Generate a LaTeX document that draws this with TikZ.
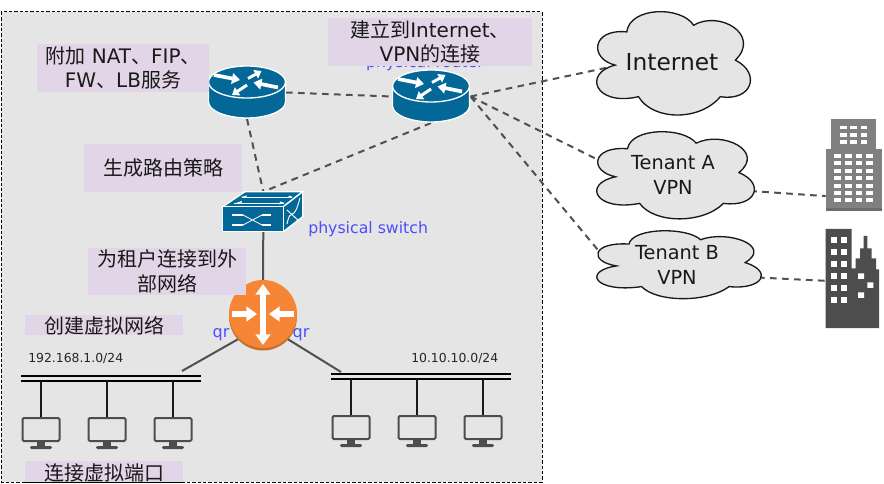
\documentclass[tikz,border=0pt]{standalone}
\usepackage{fontspec}
\setmainfont{DejaVu Sans}
\newfontfamily\cjk{Noto Sans CJK SC}
\usetikzlibrary{arrows.meta,shapes.geometric}
\definecolor{panel}{HTML}{E5E5E5}
\definecolor{lilac}{HTML}{E1D5E7}
\definecolor{cisco}{HTML}{036897}
\definecolor{orangeq}{HTML}{F68635}
\definecolor{orangeqd}{HTML}{C4702E}
\definecolor{linkgray}{HTML}{505050}
\definecolor{bluetxt}{HTML}{4D4DFF}
\definecolor{bldA}{HTML}{808080}
\definecolor{bldB}{HTML}{4D4D4D}
\tikzset{
  lab/.style={fill=lilac,inner sep=0pt,outer sep=0pt,align=center,text=black!90,font=\fontsize{15}{18.3}\selectfont},
  hit/.style={inner sep=0pt,outer sep=0pt,draw=none,fill=none},
  dashlink/.style={draw=linkgray,line width=1.5pt,dash pattern=on 5pt off 4pt},
  solidlink/.style={draw=linkgray,line width=1.5pt},
  drop/.style={draw=black!90,line width=1.5pt},
  busline/.style={draw=black,line width=1.6pt},
  blue label/.style={text=bluetxt,inner sep=0pt},
  cloud text/.style={inner sep=0pt,text=black!90,align=center,font=\fontsize{14.5}{18.3}\selectfont},
  routerpic/.pic={
    \path[fill=cisco,draw=white,line width=1pt] (-38.5,0) -- (-38.5,20) .. controls (-38.5,29) and (-20,36) .. (0,36) .. controls (20,36) and (38.5,29) .. (38.5,20) -- (38.5,0) -- cycle;
    \path[fill=cisco,draw=white,line width=1pt] (0,0) ellipse [x radius=38.5,y radius=16];
    \draw[draw=white,line width=2.8pt,-{Triangle[length=6pt,width=8pt]}] (-33,-7) -- (-7,-2);
    \draw[draw=white,line width=2.2pt,-{Triangle[length=5pt,width=7pt]}] (1,-3.5) -- (14.5,-11);
    \draw[draw=white,line width=2.8pt,-{Triangle[length=6pt,width=8pt]}] (31,5.5) -- (6.5,0.5);
    \draw[draw=white,line width=2.2pt,-{Triangle[length=5pt,width=7pt]}] (0,3) -- (-15,13);
  },
  pcpic/.pic={
    \draw[draw=bldB,line width=1.5pt,rounded corners=1pt,fill=panel] (-18.5,0) rectangle (18.5,23);
    \fill[bldB] (-4,23) rectangle (4,28);
    \fill[bldB,rounded corners=1pt] (-11,28) rectangle (11,31);
  }
}
\newcommand{\cloudshape}[4]{%
  \begin{scope}[shift={(#1,#2)},x=#3*0.75pt,y=-#4*0.75pt]
    \path[fill=panel,draw=black!90,line width=1pt]
      (.128,.521) .. controls (-.04,.456) and (-.02,.16) .. (.202,.195)
      .. controls (.224,-.055) and (.55,-.06) .. (.628,.13)
      .. controls (.79,-.02) and (1.06,.22) .. (.894,.472)
      .. controls (1.06,.6) and (1.0,.88) .. (.798,.83)
      .. controls (.67,1.07) and (.37,1.07) .. (.277,.83)
      .. controls (.0,.93) and (-.08,.6) .. (.128,.521) -- cycle;
  \end{scope}}
\begin{document}
\begin{tikzpicture}[x=0.75pt,y=-0.75pt]
\useasboundingbox (0,0) rectangle (884,484);
% panel
\path[fill=panel,draw=black,line width=0.75pt,dash pattern=on 2.6pt off 1.4pt] (1,12) rectangle (542,482);
% hidden label behind the purple box
\node[blue label,font=\fontsize{11.8}{14}\selectfont] (prouter) at (425,63) {physical router};
% connectors are drawn under the clouds
\node[hit,ellipse,minimum width=132*0.75pt,minimum height=90*0.75pt] (internetbox) at (673,63) {};
\node[hit,ellipse,minimum width=162*0.75pt,minimum height=86*0.75pt] (tenantAbox) at (675,175) {};
\node[hit,ellipse,minimum width=170*0.75pt,minimum height=68*0.75pt] (tenantBbox) at (679,265) {};
% icon hit boxes
\node[hit,minimum width=78*0.75pt,minimum height=53*0.75pt] (router1) at (247,92.5) {};
\node[hit,minimum width=79*0.75pt,minimum height=53*0.75pt] (router2) at (431,96.5) {};
\node[hit,minimum width=81*0.75pt,minimum height=40*0.75pt] (switch) at (263.3,211.7) {};
\node[hit,circle,minimum size=68*0.75pt] (qr) at (263,314) {};
\node[hit,minimum width=180*0.75pt,minimum height=5*0.75pt] (bus1) at (111,378.5) {};
\node[hit,minimum width=180*0.75pt,minimum height=5*0.75pt] (bus2) at (421,376.5) {};
\coordinate (bus1tap) at (182,371);
\coordinate (bus2tap) at (341,372);
\node[hit,minimum width=38*0.75pt,minimum height=31*0.75pt] (pc1) at (41,433.5) {};
\node[hit,minimum width=38*0.75pt,minimum height=31*0.75pt] (pc2) at (107,433.5) {};
\node[hit,minimum width=38*0.75pt,minimum height=31*0.75pt] (pc3) at (173,433.5) {};
\node[hit,minimum width=38*0.75pt,minimum height=31*0.75pt] (pc4) at (351,431.5) {};
\node[hit,minimum width=38*0.75pt,minimum height=31*0.75pt] (pc5) at (417,431.5) {};
\node[hit,minimum width=38*0.75pt,minimum height=31*0.75pt] (pc6) at (483,431.5) {};
\node[hit,minimum width=56*0.75pt,minimum height=92*0.75pt] (buildingA) at (853.7,165) {};
\node[hit,minimum width=53*0.75pt,minimum height=99*0.75pt] (buildingB) at (852.3,278.5) {};
% connectors
\draw[dashlink] (router1.east) -- (router2.west);
\draw[dashlink] (router1.south) -- (switch.north);
\draw[dashlink] (router2.south) -- (switch.north);
\draw[dashlink] (router2.east) -- (internetbox.184);
\draw[dashlink] (router2.east) -- (tenantAbox.169.5);
\draw[dashlink] (router2.east) -- (tenantBbox.171);
\draw[dashlink] (tenantAbox.-12.5) -- (buildingA.228);
\draw[dashlink] (tenantBbox.-9) -- (buildingB.185);
\draw[solidlink] (switch.south) -- (qr.north);
\draw[solidlink] (qr.226) -- (bus1tap);
\draw[solidlink] (qr.-46) -- (bus2tap);
% clouds
\cloudshape{595}{12}{157}{102}
\cloudshape{595}{132}{161}{86}
\cloudshape{595}{231}{168}{67}
\node[cloud text,font=\fontsize{17.5}{20}\selectfont] (internet) at (672,62) {Internet};
\node[cloud text] (tenantA) at (673,175) {Tenant A\\VPN};
\node[cloud text] (tenantB) at (677,265) {Tenant B\\VPN};
% buses
\draw[busline] (bus1.north west) -- (bus1.north east);
\draw[busline] (bus1.south west) -- (bus1.south east);
\draw[busline] (bus2.north west) -- (bus2.north east);
\draw[busline] (bus2.south west) -- (bus2.south east);
\foreach \p/\b in {pc1/bus1,pc2/bus1,pc3/bus1,pc4/bus2,pc5/bus2,pc6/bus2}{
  \draw[drop] (\p |- \b.south) -- (\p.north);
}
% pcs
\foreach \x/\y in {41/418,107/418,173/418,351/416,417/416,483/416}{
  \pic at (\x,\y) {pcpic};
}
% routers
\pic at (247,82) {routerpic};
\pic at (431,86) {routerpic};
% switch
\path[fill=cisco,draw=white,line width=1pt] (222.7,206.7) -- (245,191.7) -- (302.7,191.7) -- (283.3,206.7) -- cycle;
\path[fill=cisco,draw=white,line width=1pt] (283.3,206.7) -- (302.7,191.7) -- (302.7,216.7) -- (283.3,231.7) -- cycle;
\path[fill=cisco,draw=white,line width=1pt] (222.7,206.7) rectangle (283.3,231.7);
\draw[white,line width=2pt] (232,215) -- (243,215) (262,215) -- (271,215) (232,225) -- (243,225) (262,225) -- (271,225);
\draw[white,line width=0.6pt] (243,215) -- (262,225) (243,225) -- (262,215);
\draw[white,line width=0.6pt] (242,197) -- (292,197) (234,203) -- (284,203);
\fill[white] (236,203) -- (242,201) -- (241,204) -- cycle (289,195.5) -- (293,197) -- (288,198) -- cycle (247,195.5) -- (241,197) -- (246,198) -- cycle (280,201.5) -- (285,203) -- (279,204.5) -- cycle;
\draw[white,line width=0.7pt] (287,224) .. controls (291,205) and (293,225) .. (300,198);
\draw[white,line width=0.7pt] (287,210) -- (299,221);
% qr router
\fill[orangeqd] (263,316.5) circle [radius=34];
\fill[orangeq] (263,314) circle [radius=34];
\draw[draw=white,line width=4.5pt,{Triangle[length=8pt,width=11pt]}-{Triangle[length=8pt,width=11pt]}] (263,284) -- (263,345);
\draw[draw=white,line width=4.5pt,-{Triangle[length=8pt,width=11pt]}] (232,314) -- (257,314);
\draw[draw=white,line width=4.5pt,-{Triangle[length=8pt,width=11pt]}] (294,314) -- (269,314);
% buildings
\fill[bldA] (831,119) rectangle (876,150);
\fill[bldA] (825.7,149) rectangle (881.7,211);
\fill[bldA!85!black] (825.7,208) rectangle (881.7,211);
\foreach \y in {125.7,132.9,140.1}{\foreach \x in {840,850.3,860.7}{
  \fill[white] (\x,\y) rectangle +(6.7,3.8);}}
\foreach \y in {154,161.4,168.8,176.2,183.6,191,198.4}{\foreach \x in {834.3,845,855.7,866}{
  \fill[white] (\x,\y) rectangle +(6.7,4);}}
\fill[bldB] (825.7,229) -- (851.7,229) -- (851.7,268.3) -- (855.7,268.3) -- (855.7,258.3) -- (860,258.3) -- (860,248.3) -- (863.7,248.3) -- (863.7,236) -- (867.3,236) -- (867.3,248.3) -- (871.7,248.3) -- (871.7,258.3) -- (876,258.3) -- (876,269.3) -- (879,269.3) -- (879,328) -- (825.7,328) -- cycle;
\foreach \y in {237.3,249.3,261.3,273.3,285.3,297.3}{\foreach \x in {830.7,841}{
  \fill[white] (\x,\y) rectangle +(6,5.5);}}
\fill[white] (858,273.5) rectangle +(6,5.5) (867.3,282.5) rectangle +(6,5.5) (858,292.5) rectangle +(6,5.5);
% labels
\node[lab,minimum width=172*0.75pt,minimum height=48*0.75pt] (l1) at (123,68) {{\cjk 附加} NAT{\cjk 、}FIP{\cjk 、}\\FW{\cjk 、}LB{\cjk 服务}};
\node[lab,minimum width=204*0.75pt,minimum height=48*0.75pt] (l2) at (430,42) {{\cjk 建立到}Internet{\cjk 、}\\VPN{\cjk 的连接}};
\node[lab,minimum width=158*0.75pt,minimum height=48*0.75pt] (l3) at (163,168) {\cjk 生成路由策略};
\node[lab,minimum width=158*0.75pt,minimum height=47*0.75pt] (l4) at (167,271.5) {\cjk 为租户连接到外\\\cjk 部网络};
\node[lab,minimum width=158*0.75pt,minimum height=20*0.75pt] (l5) at (104,325) {};
\node[lab,fill=none] at (104,326) {\cjk 创建虚拟网络};
\begin{scope}
\clip (0,461) rectangle (884,481.5);
\node[lab,minimum width=158*0.75pt,minimum height=21*0.75pt] (l6) at (104,471.5) {};
\node[lab,fill=none] at (104,473) {\cjk 连接虚拟端口};
\end{scope}
\draw[black,line width=0.75pt,dash pattern=on 2.6pt off 1.4pt] (25,482) -- (183,482);
% small text
\node[inner sep=0pt,anchor=west,text=black!85,font=\fontsize{9.3}{11}\selectfont] (net1) at (28,358) {192.168.1.0/24};
\node[inner sep=0pt,anchor=west,text=black!85,font=\fontsize{9.3}{11}\selectfont] (net2) at (411,358) {10.10.10.0/24};
\node[blue label,anchor=west,font=\fontsize{11.8}{14}\selectfont] (pswitch) at (308,229) {physical switch};
\node[blue label,font=\fontsize{12}{14}\selectfont] (qr1) at (221,335) {qr};
\node[blue label,font=\fontsize{12}{14}\selectfont] (qr2) at (301,335) {qr};
\end{tikzpicture}
\end{document}
